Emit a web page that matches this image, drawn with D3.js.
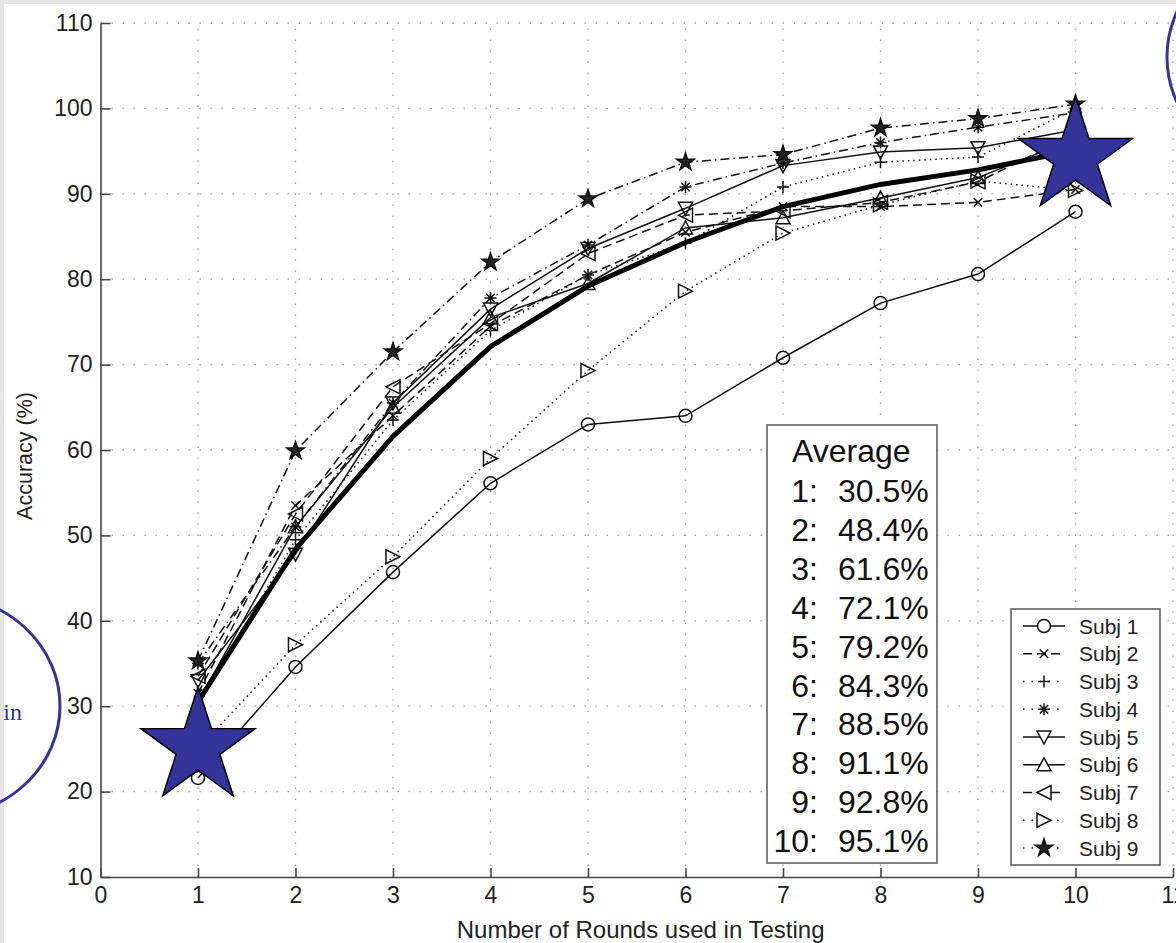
<!DOCTYPE html>
<html>
<head>
<meta charset="utf-8">
<script src="https://cdn.jsdelivr.net/npm/d3@7"></script>
<style>
  html, body { margin: 0; padding: 0; background: #fff; }
  svg { display: block; font-family: "Liberation Sans", Arial, Helvetica, sans-serif; }
</style>
</head>
<body>
<svg id="chart" width="1176" height="943"></svg>
<script>
// ---------------- data ----------------
const rounds = [1, 2, 3, 4, 5, 6, 7, 8, 9, 10];
const subj1 = [21.6, 34.6, 45.7, 56.1, 63.0, 64.0, 70.8, 77.2, 80.6, 87.9];
const subj2 = [31.5, 53.5, 64.0, 74.5, 80.5, 85.5, 88.5, 88.5, 89.0, 90.5];
const subj3 = [30.0, 49.5, 63.5, 74.0, 80.5, 84.2, 90.8, 93.7, 94.3, 100.0];
const subj4 = [35.0, 51.0, 65.5, 77.8, 84.0, 90.8, 93.6, 96.0, 97.8, 99.5];
const subj5 = [33.0, 47.8, 65.5, 76.5, 83.6, 88.3, 93.3, 94.9, 95.4, 97.5];
const subj6 = [30.5, 51.0, 65.0, 75.5, 79.5, 86.0, 87.2, 89.5, 91.9, 96.5];
const subj7 = [33.5, 52.5, 67.4, 74.8, 83.0, 87.5, 88.0, 89.0, 91.4, 97.0];
const subj8 = [25.0, 37.2, 47.5, 59.0, 69.3, 78.6, 85.4, 88.7, 91.5, 90.4];
const subj9 = [35.3, 59.9, 71.5, 82.0, 89.4, 93.7, 94.6, 97.7, 98.8, 100.5];
const average = [30.5, 48.4, 61.6, 72.1, 79.2, 84.3, 88.5, 91.1, 92.8, 95.1];

const subjectNames = ["Subj 1", "Subj 2", "Subj 3", "Subj 4", "Subj 5", "Subj 6", "Subj 7", "Subj 8", "Subj 9"];
const averageLabels = ["1:", "2:", "3:", "4:", "5:", "6:", "7:", "8:", "9:", "10:"];
const averageTexts = ["30.5%", "48.4%", "61.6%", "72.1%", "79.2%", "84.3%", "88.5%", "91.1%", "92.8%", "95.1%"];
const xTicks = [0, 1, 2, 3, 4, 5, 6, 7, 8, 9, 10, 11];
const yTicks = [10, 20, 30, 40, 50, 60, 70, 80, 90, 100, 110];
const highlightPoints = [[1, 25.2], [10, 94.3]];

// ---------------- styles ----------------
const dashStyles = {
  solid: null,
  dashed: "9,5",
  dotted: "1.5,4",
  dashdot: "9,4,1.5,4"
};
const subjectStyle = [
  { dash: "solid",   marker: "circle" },
  { dash: "dashed",  marker: "x" },
  { dash: "dotted",  marker: "plus" },
  { dash: "dashdot", marker: "asterisk" },
  { dash: "solid",   marker: "tridown" },
  { dash: "solid",   marker: "triup" },
  { dash: "dashed",  marker: "trileft" },
  { dash: "dotted",  marker: "triright" },
  { dash: "dashdot", marker: "star" }
];
const subjects = [subj1, subj2, subj3, subj4, subj5, subj6, subj7, subj8, subj9];

const svg = d3.select("#chart");
const W = 1176, H = 943;

const x = d3.scaleLinear().domain([0, 11]).range([100.5, 1173]);
const y = d3.scaleLinear().domain([10, 110]).range([877, 23]);

// slide-edge strips
svg.append("rect").attr("x", 0).attr("y", 0).attr("width", W).attr("height", 4).attr("fill", "#e6e6e6");
svg.append("rect").attr("x", 0).attr("y", 0).attr("width", 4).attr("height", H).attr("fill", "#e6e6e6");

// grid
const grid = svg.append("g").attr("stroke", "#9a9a9a").attr("stroke-width", 1.3)
  .attr("stroke-dasharray", "1.5,9.5");
grid.selectAll("line.gx").data(xTicks.filter(d => d > 0)).join("line")
  .attr("x1", d => x(d)).attr("x2", d => x(d))
  .attr("y1", y(10)).attr("y2", y(110));
grid.selectAll("line.gy").data(yTicks.filter(d => d > 10)).join("line")
  .attr("x1", x(0)).attr("x2", x(11))
  .attr("y1", d => y(d)).attr("y2", d => y(d));

// axes
const fontTick = 23;
const yAxis = svg.append("g").attr("transform", `translate(${x(0)},0)`)
  .call(d3.axisLeft(y).tickValues(yTicks).tickSizeInner(-10).tickSizeOuter(0).tickPadding(8));
const xAxis = svg.append("g").attr("transform", `translate(0,${y(10)})`)
  .call(d3.axisBottom(x).tickValues(xTicks).tickSizeInner(-9).tickSizeOuter(0).tickPadding(10));
[yAxis, xAxis].forEach(a => {
  a.select(".domain").attr("stroke", "#444").attr("stroke-width", 1.6);
  a.selectAll(".tick line").attr("stroke", "#444").attr("stroke-width", 1.6);
  a.selectAll(".tick text").attr("font-size", fontTick).attr("fill", "#222")
    .attr("font-family", '"Liberation Sans", Arial, sans-serif');
});
yAxis.attr("font-size", fontTick);
xAxis.attr("font-size", fontTick);

// axis labels
svg.append("text").attr("x", x(5.54)).attr("y", 938).attr("text-anchor", "middle")
  .attr("font-size", 24).attr("fill", "#222").text("Number of Rounds used in Testing");
svg.append("text").attr("transform", "translate(32,456) rotate(-90)").attr("text-anchor", "middle")
  .attr("font-size", 21.5).attr("fill", "#222").text("Accuracy (%)");

// marker generator
function markerPath(type, s) {
  const k = s;
  switch (type) {
    case "circle": return d3.symbol(d3.symbolCircle, Math.PI * 6.5 * 6.5)();
    case "x": return `M${-k*0.7},${-k*0.7}L${k*0.7},${k*0.7}M${-k*0.7},${k*0.7}L${k*0.7},${-k*0.7}`;
    case "plus": return `M${-k},0H${k}M0,${-k}V${k}`;
    case "asterisk": return `M${-k},0H${k}M0,${-k}V${k}M${-k*0.7},${-k*0.7}L${k*0.7},${k*0.7}M${-k*0.7},${k*0.7}L${k*0.7},${-k*0.7}`;
    case "tridown": return `M${-7},${-6}L7,${-6}L0,7Z`;
    case "triup": return `M${-7},6L7,6L0,${-7}Z`;
    case "trileft": return `M7,${-7}L7,7L${-7},0Z`;
    case "triright": return `M${-7},${-7}L${-7},7L7,0Z`;
    case "star": return d3.symbol(d3.symbolStar, 95)();
  }
}

const line = d3.line().x((d, i) => x(rounds[i])).y(d => y(d));

const plot = svg.append("g");
subjects.forEach((vals, si) => {
  const st = subjectStyle[si];
  const g = plot.append("g");
  g.append("path").datum(vals).attr("d", line).attr("fill", "none")
    .attr("stroke", "#111").attr("stroke-width", 1.5)
    .attr("stroke-dasharray", dashStyles[st.dash]);
  g.selectAll("path.m").data(vals).join("path").attr("class", "m")
    .attr("transform", (d, i) => `translate(${x(rounds[i])},${y(d)})`)
    .attr("d", markerPath(st.marker, 6))
    .attr("fill", st.marker === "star" ? "#222" : "none")
    .attr("stroke", "#111").attr("stroke-width", 1.5);
});

// average thick line
plot.append("path").datum(average).attr("d", line).attr("fill", "none")
  .attr("stroke", "#000").attr("stroke-width", 5).attr("stroke-linejoin", "round");

// average box
const ab = svg.append("g");
ab.append("rect").attr("x", 767).attr("y", 425).attr("width", 170).attr("height", 438)
  .attr("fill", "#fff").attr("stroke", "#555").attr("stroke-width", 1.5);
ab.append("text").attr("x", 792).attr("y", 462).attr("font-size", 32).attr("fill", "#111").text("Average");
ab.selectAll("text.al").data(averageLabels).join("text").attr("class", "al")
  .attr("x", 818).attr("y", (d, i) => 502 + i * 38.9).attr("text-anchor", "end")
  .attr("font-size", 32).attr("fill", "#111").text(d => d);
ab.selectAll("text.av").data(averageTexts).join("text").attr("class", "av")
  .attr("x", 838).attr("y", (d, i) => 502 + i * 38.9)
  .attr("font-size", 32).attr("fill", "#111").text(d => d);

// legend
const lg = svg.append("g");
lg.append("rect").attr("x", 1011).attr("y", 609).attr("width", 149).attr("height", 256)
  .attr("fill", "#fff").attr("stroke", "#555").attr("stroke-width", 1.5);
subjectNames.forEach((name, i) => {
  const cy = 626 + i * 27.75;
  const st = subjectStyle[i];
  lg.append("line").attr("x1", 1023).attr("x2", 1065).attr("y1", cy).attr("y2", cy)
    .attr("stroke", "#111").attr("stroke-width", 1.5)
    .attr("stroke-dasharray", st.dash === "dotted" || st.dash === "dashdot" ? "1.5,7" : dashStyles[st.dash]);
  lg.append("path").attr("transform", `translate(1044,${cy})`)
    .attr("d", markerPath(st.marker, 6))
    .attr("fill", st.marker === "star" ? "#222" : "#fff")
    .attr("stroke", "#111").attr("stroke-width", 1.5);
  lg.append("text").attr("x", 1079).attr("y", cy + 7.5).attr("font-size", 21).attr("fill", "#222").text(name);
});

// big highlight stars
function starPath(R, r) {
  const pts = [];
  for (let i = 0; i < 10; i++) {
    const a = -Math.PI / 2 + i * Math.PI / 5;
    const rad = i % 2 === 0 ? R : r;
    pts.push([rad * Math.cos(a), rad * Math.sin(a)]);
  }
  return "M" + pts.map(p => p.join(",")).join("L") + "Z";
}
svg.selectAll("path.big").data(highlightPoints).join("path").attr("class", "big")
  .attr("transform", d => `translate(${x(d[0])},${y(d[1])})`)
  .attr("d", starPath(60, 23))
  .attr("fill", "#333399").attr("stroke", "#000").attr("stroke-width", 1.5);

// annotation ellipses (slide overlays)
svg.append("ellipse").attr("cx", -60).attr("cy", 706).attr("rx", 120).attr("ry", 111)
  .attr("fill", "none").attr("stroke", "#333399").attr("stroke-width", 3);
svg.append("text").attr("x", 22).attr("y", 720).attr("text-anchor", "end")
  .attr("font-family", '"Liberation Serif", "Times New Roman", serif')
  .attr("font-size", 24).attr("fill", "#333399").text("in");
svg.append("ellipse").attr("cx", 1267).attr("cy", 57).attr("rx", 100).attr("ry", 104)
  .attr("fill", "none").attr("stroke", "#333399").attr("stroke-width", 3);
</script>
</body>
</html>
